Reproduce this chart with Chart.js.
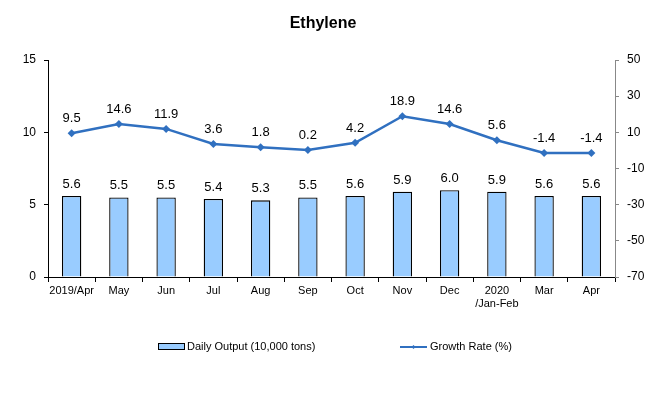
<!DOCTYPE html>
<html><head><meta charset="utf-8">
<script src="https://cdn.jsdelivr.net/npm/chart.js@4"></script>
<style>html,body{margin:0;padding:0;background:#fff}#wrap{width:665px;height:395px}</style>
</head><body><div id="wrap"><canvas id="c" width="665" height="395"></canvas></div>
<script>
const categories = [["2019/Apr"],["May"],["Jun"],["Jul"],["Aug"],["Sep"],["Oct"],["Nov"],["Dec"],["2020","/Jan-Feb"],["Mar"],["Apr"]];
const dailyOutput = [5.6,5.5,5.5,5.4,5.3,5.5,5.6,5.9,6.0,5.9,5.6,5.6];
const growthRate = [9.5,14.6,11.9,3.6,1.8,0.2,4.2,18.9,14.6,5.6,-1.4,-1.4];
const leftTicks = [0,5,10,15];
const rightTicks = [-70,-50,-30,-10,10,30,50];
const titleText = "Ethylene";
const seriesNames = ["Daily Output (10,000 tons)","Growth Rate (%)"];

const FONT = "'Liberation Sans', Arial, sans-serif";
const barColor = "#99CCFF", lineColor = "#3070C0";

const extras = {
  id: 'extras',
  afterDatasetsDraw(chart) {
    const ctx = chart.ctx;
    ctx.save();
    ctx.fillStyle = '#000';
    ctx.textAlign = 'center';
    ctx.textBaseline = 'alphabetic';
    ctx.font = "13px " + FONT;
    chart.getDatasetMeta(1).data.forEach((el, i) => {
      ctx.fillText(dailyOutput[i].toFixed(1), el.x, el.y - 8);
    });
    chart.getDatasetMeta(0).data.forEach((el, i) => {
      ctx.fillText(growthRate[i].toFixed(1), el.x, el.y - 11);
    });
    // title
    ctx.font = "bold 16px " + FONT;
    ctx.fillText(titleText, 323, 28);
    // legend
    ctx.fillStyle = barColor; ctx.strokeStyle = '#000'; ctx.lineWidth = 1;
    ctx.fillRect(158.5, 343.5, 26, 6); ctx.strokeRect(158.5, 343.5, 26, 6);
    ctx.strokeStyle = lineColor; ctx.lineWidth = 2;
    ctx.beginPath(); ctx.moveTo(400, 347); ctx.lineTo(427, 347); ctx.stroke();
    ctx.fillStyle = lineColor;
    ctx.beginPath(); ctx.moveTo(413.5, 345); ctx.lineTo(415.5, 347); ctx.lineTo(413.5, 349); ctx.lineTo(411.5, 347); ctx.closePath(); ctx.fill();
    ctx.fillStyle = '#000'; ctx.textAlign = 'left'; ctx.textBaseline = 'middle';
    ctx.font = "11px " + FONT;
    ctx.fillText(seriesNames[0], 187, 347);
    ctx.fillText(seriesNames[1], 430, 347);
    ctx.restore();
  }
};

new Chart(document.getElementById('c'), {
  data: {
    labels: categories,
    datasets: [
      { type: 'line', label: seriesNames[1], data: growthRate, yAxisID: 'y1',
        borderColor: lineColor, backgroundColor: lineColor, borderWidth: 2.5,
        pointStyle: 'rectRot', pointRadius: 4, pointBorderWidth: 0, tension: 0, order: 0 },
      { type: 'bar', label: seriesNames[0], data: dailyOutput, yAxisID: 'y',
        backgroundColor: barColor, borderColor: '#000', borderWidth: 1.3,
        barPercentage: 0.41, categoryPercentage: 1, order: 1 }
    ]
  },
  options: {
    responsive: false, animation: false,
    layout: { padding: { top: 60, left: 0, right: 0, bottom: 0 } },
    plugins: { legend: { display: false }, title: { display: false }, tooltip: { enabled: false } },
    scales: {
      x: {
        offset: true,
        grid: { display: true, drawOnChartArea: false, offset: true, color: '#000', tickLength: 5 },
        border: { display: true, color: '#000' },
        ticks: { color: '#000', font: { family: FONT, size: 11 }, maxRotation: 0, autoSkip: false, padding: 2 },
        afterFit(s) { s.height = 118; }
      },
      y: {
        position: 'left', min: 0, max: 15,
        afterBuildTicks(s) { s.ticks = leftTicks.map(v => ({ value: v })); },
        grid: { display: true, drawOnChartArea: false, color: '#000', tickLength: 4 },
        border: { display: true, color: '#000' },
        ticks: { color: '#000', font: { family: FONT, size: 12 }, padding: 8 },
        afterFit(s) { s.width = 48; }
      },
      y1: {
        position: 'right', min: -70, max: 50,
        afterBuildTicks(s) { s.ticks = rightTicks.map(v => ({ value: v })); },
        grid: { display: true, drawOnChartArea: false, color: '#888', tickLength: 4 },
        border: { display: true, color: '#888' },
        ticks: { color: '#000', font: { family: FONT, size: 12 }, padding: 8 },
        afterFit(s) { s.width = 50; }
      }
    }
  },
  plugins: [extras]
});
</script>
</body></html>
